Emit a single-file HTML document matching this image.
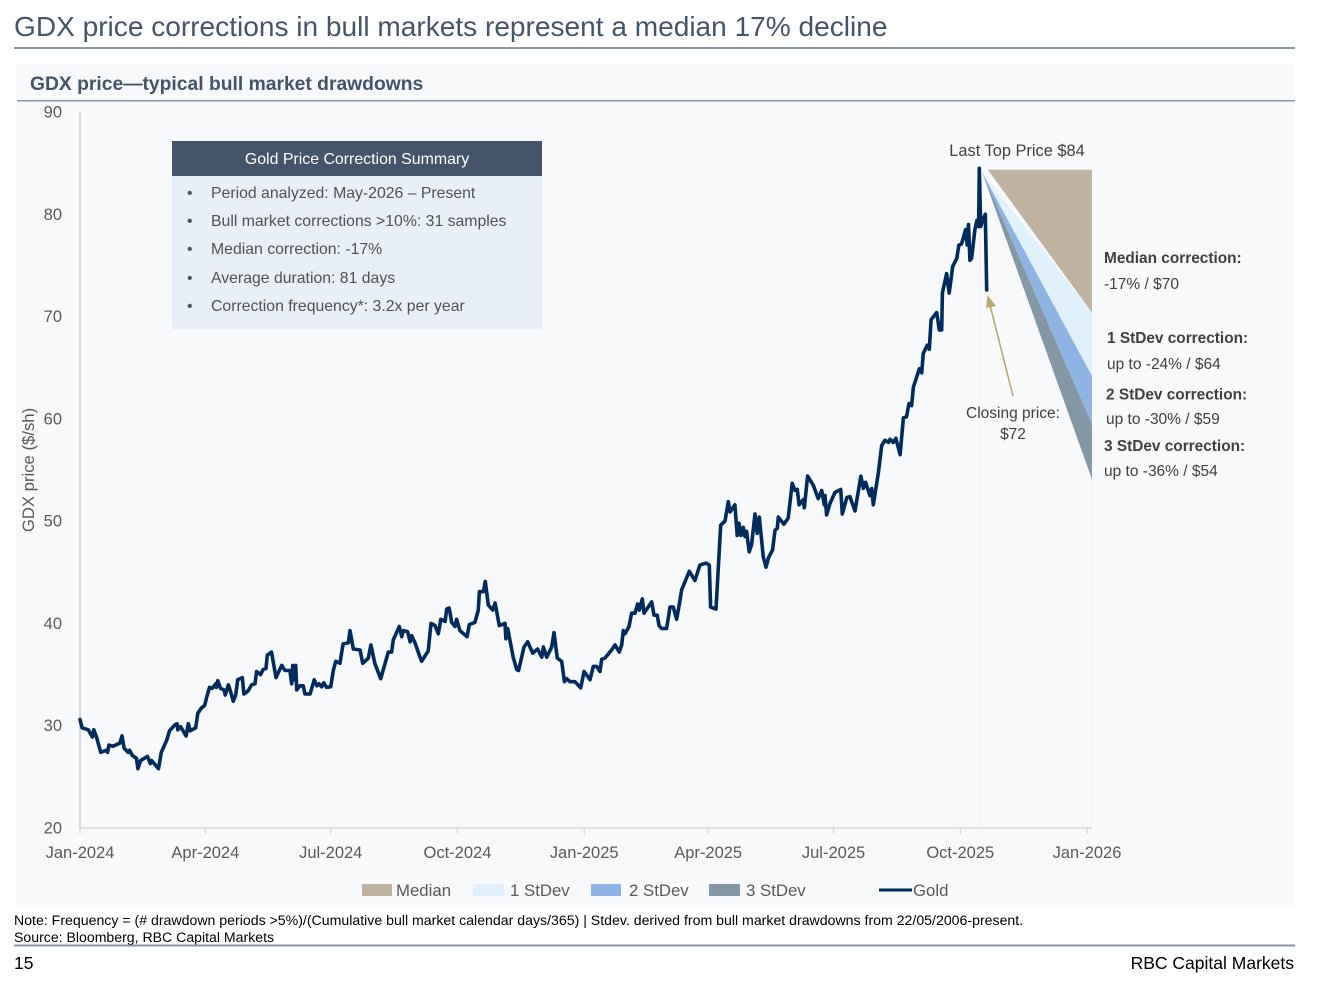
<!DOCTYPE html>
<html lang="en">
<head>
<meta charset="utf-8">
<title>GDX price corrections in bull markets</title>
<style>
html,body{margin:0;padding:0;background:#fff;}
body{width:1318px;height:990px;overflow:hidden;}
svg{display:block;font-family:"Liberation Sans",sans-serif;}
.tick{font-size:16.5px;fill:#595959;}
.anno{font-size:15.5px;fill:#404040;}
.annob{font-size:15.4px;fill:#404040;font-weight:bold;}
.leg{font-size:16.8px;fill:#595959;}
.sum{font-size:15.8px;fill:#505050;}
</style>
</head>
<body>
<svg id="page" width="1318" height="990" viewBox="0 0 1318 990" xmlns="http://www.w3.org/2000/svg">
  <rect x="0" y="0" width="1318" height="990" fill="#ffffff"/>
  <text x="14" y="36" font-size="28.07px" fill="#44546a">GDX price corrections in bull markets represent a median 17% decline</text>
  <rect x="14" y="47" width="1281" height="2" fill="#8a97a8"/>
  <rect x="16" y="64" width="1279" height="844" fill="#f7f9fb"/>
  <text x="30" y="90" font-size="19.3px" font-weight="bold" fill="#44546a">GDX price—typical bull market drawdowns</text>
  <rect x="17" y="100" width="1278" height="1.5" fill="#8a97a8"/>

  <g id="plot"></g>

  <text class="tick" transform="translate(34,470) rotate(-90)" text-anchor="middle" style="font-size:16.7px">GDX price ($/sh)</text>

  <g>
    <rect x="172" y="176" width="370" height="153" fill="#e9eff6"/>
    <rect x="172" y="141" width="370" height="35" fill="#44546a"/>
    <text x="357" y="164" text-anchor="middle" font-size="15.9px" fill="#ffffff">Gold Price Correction Summary</text>
    <g class="sum">
      <text x="187" y="198">•</text>
      <text x="211" y="198">Period analyzed: May-2026 – Present</text>
      <text x="187" y="226">•</text>
      <text x="211" y="226">Bull market corrections &gt;10%: 31 samples</text>
      <text x="187" y="254">•</text>
      <text x="211" y="254">Median correction: -17%</text>
      <text x="187" y="283">•</text>
      <text x="211" y="283">Average duration: 81 days</text>
      <text x="187" y="311">•</text>
      <text x="211" y="311">Correction frequency*: 3.2x per year</text>
    </g>
  </g>

  <text class="anno" x="1017" y="156" text-anchor="middle" style="font-size:16.4px">Last Top Price $84</text>
  <text class="anno" x="1013" y="418" text-anchor="middle">Closing price:</text>
  <text class="anno" x="1013" y="439" text-anchor="middle">$72</text>
  <line x1="1013" y1="396" x2="990" y2="305" stroke="#bba874" stroke-width="1.6"/>
  <polygon points="987.5,295 996,306 986,308" fill="#bba874"/>

  <text class="annob" x="1104" y="263">Median correction:</text>
  <text class="anno" x="1104" y="289">-17% / $70</text>
  <text class="annob" x="1107" y="343">1 StDev correction:</text>
  <text class="anno" x="1107" y="369">up to -24% / $64</text>
  <text class="annob" x="1106" y="399.5">2 StDev correction:</text>
  <text class="anno" x="1106" y="424">up to -30% / $59</text>
  <text class="annob" x="1104" y="451">3 StDev correction:</text>
  <text class="anno" x="1104" y="476">up to -36% / $54</text>

  <g>
    <rect x="362" y="884" width="30" height="12" fill="#bfb2a1"/>
    <text class="leg" x="396" y="896">Median</text>
    <rect x="473" y="884" width="31" height="12" fill="#e1f2fd"/>
    <text class="leg" x="510" y="896">1 StDev</text>
    <rect x="591" y="884" width="30" height="12" fill="#8db4e2"/>
    <text class="leg" x="629" y="896">2 StDev</text>
    <rect x="709" y="884" width="31" height="12" fill="#8497a5"/>
    <text class="leg" x="746" y="896">3 StDev</text>
    <line x1="879" y1="890" x2="912" y2="890" stroke="#002b5c" stroke-width="3"/>
    <text class="leg" x="913" y="896">Gold</text>
  </g>

  <text x="14" y="925" font-size="14.13px" fill="#000000">Note: Frequency = (# drawdown periods &gt;5%)/(Cumulative bull market calendar days/365) | Stdev. derived from bull market drawdowns from 22/05/2006-present.</text>
  <text x="14" y="942" font-size="14.1px" fill="#000000">Source: Bloomberg, RBC Capital Markets</text>
  <rect x="14" y="944.5" width="1281" height="2" fill="#8a97a8"/>
  <text x="14" y="969" font-size="17.5px" fill="#000000">15</text>
  <text x="1294" y="969" font-size="17.5px" text-anchor="end" fill="#000000">RBC Capital Markets</text>
</svg>

<script>
const xTickDays = [0,91,182,274,366,456,547,639,731];
const xTickLabels = ["Jan-2024","Apr-2024","Jul-2024","Oct-2024","Jan-2025","Apr-2025","Jul-2025","Oct-2025","Jan-2026"];
const yTickValues = [20,30,40,50,60,70,80,90];
const goldDays = [
0,1.5,6,9,10,12,15,19,20,21,
24,29,30.5,32,35,36,38,41,42,44,
49,51,52,57,59,63,65,69,70.5,71,
73,77,78.6,80,84,85.5,88,90.5,92,94,
96,98.5,99,100,102,104.5,105.5,107.7,109.4,111.3,
113,114.5,117.8,119,122,124.6,127,128.2,131,133,
135,136,139,142.3,146.4,148.8,152.4,153.7,154.4,155.4,
156.6,157.3,159.7,162,163.3,167,170,172,173.5,175.4,
177,179,182,183.9,185.6,188.7,191,194.8,196,198.4,
203.3,205.2,209.3,211.2,214,218.3,223.8,226.2,227.4,231.8,
233.5,234.7,237.8,239.6,240.8,243.2,246.3,248,252.8,254.8,
257.7,260.1,261.9,265,266.2,268,269.8,272.2,273.4,275.8,
281,282.6,286.7,289.1,289.9,292.8,294.2,296.4,299.6,301.3,
304.4,308.5,309.2,310.5,314.5,317,318.4,322.3,325,328.6,
332.2,335.2,336.4,338.8,342.4,344.1,346.5,349.7,351.6,353.3,
355.7,359.3,363.5,365.9,370.2,372.6,375,377.5,378.7,381,
385.9,388.4,391.5,393.2,394.4,395.6,398.5,400.4,402.9,404.8,
406,408.2,409.4,415,416.7,419,420.3,422.2,425.8,428.3,
430.7,433.1,435,436.8,442.3,446.4,450,454.4,456.8,457.8,
461.7,465.1,468.2,470.6,471.9,475.4,477.1,478.4,479.8,481.5,
482.7,483.9,485.8,487.5,490,491.6,493.1,496,498,499.7,
502.8,504.5,506.2,506.9,511,514.1,517,519,520.7,522,
525,525.8,528.2,532.3,535.9,538.4,540.3,540.8,542,544.4,
548,552.2,553.4,556.6,558.9,562.6,566.9,568.6,570.3,573.4,
574.7,575.9,579.5,582,584.4,586.8,588,590.4,592.3,595.3,
597.7,600,601.8,603.7,605,609.3,611,612.2,615,616.5,
617.8,621.9,623.8,625.5,626,629.1,631,633.5,636.5,638,
640,642.9,644,645,646,647.2,649.6,651.1,652.3,652.8,
653.8,655.7,657.2,658.2
];
const goldPrices = [
30.6,29.8,29.6,28.9,29.6,28.9,27.4,27.6,27.4,28.1,
28.0,28.3,29.0,27.8,27.4,27.6,27.1,26.8,25.8,26.6,
27.0,26.3,26.6,25.8,27.4,28.6,29.5,30.1,30.2,29.6,
29.9,29.0,30.2,29.5,29.8,31.2,31.7,32.0,32.8,33.75,
33.65,34.1,33.75,34.4,33.65,33.5,33.0,34.0,33.3,32.4,
33.0,34.5,34.7,33.1,33.4,34.0,34.1,35.3,35.0,35.5,
35.6,36.9,37.2,34.7,35.9,35.4,35.4,34.1,35.9,34.5,
35.9,33.5,33.9,33.9,33.1,33.1,34.5,33.9,34.1,33.8,
34.2,33.75,33.8,35.4,36.3,36.1,38.0,38.1,39.3,37.5,
37.4,36.1,36.6,37.9,36.1,34.6,37.2,37.2,38.4,39.7,
38.7,39.3,39.2,38.2,38.8,38.1,36.9,36.3,37.3,40.0,
39.8,39.0,40.4,40.2,41.4,41.5,40.1,39.7,40.4,39.3,
38.7,39.9,40.1,41.3,43.1,43.1,44.1,41.8,41.3,42.0,
39.8,40.0,38.5,39.5,36.7,35.5,35.4,37.7,38.2,37.1,
37.5,36.7,37.7,36.7,37.7,39.1,36.6,36.3,34.3,34.6,
34.3,34.3,33.7,35.3,34.5,35.8,35.8,35.3,36.5,36.6,
37.4,37.9,37.2,37.9,39.3,39.0,39.7,41.0,41.0,41.9,
41.3,42.4,41.0,42.1,40.8,40.8,39.8,39.5,39.5,41.6,
41.6,40.4,41.8,43.3,45.1,44.2,45.7,45.9,45.7,41.6,
41.4,49.6,50.0,51.9,50.9,51.6,48.6,49.8,48.6,49.4,
48.5,49.0,47.0,47.7,50.7,48.8,50.4,46.5,45.5,46.4,
47.2,49.1,49.3,50.4,49.7,50.3,53.7,53.0,53.1,51.6,
52.1,51.3,54.4,53.5,52.2,53.0,51.6,52.5,50.6,51.7,
52.8,53.1,50.7,52.3,52.4,51.0,54.4,53.2,53.8,52.5,
53.2,51.6,54.7,57.4,57.9,57.7,58.0,57.7,58.1,56.5,
60.1,60.2,61.5,61.3,63.1,64.9,64.5,66.4,67.2,66.8,
69.7,70.4,68.7,68.7,72.3,74.2,72.3,74.9,75.7,77,
77.1,78.5,77,79,75.5,75.7,78.5,79.4,78.8,84.5,
78.8,79.6,80.0,72.6
];
const peakDay = [654];
const peakPrice = [84.35];
const medianStartDay = [659];
const correctionEndDay = [734.6];
const correctionLevels = [70.4,64.2,59.5,54.1];

const NS = "http://www.w3.org/2000/svg";
const plot = document.getElementById("plot");
const xScale = function(d){ return 80 + d * 1007 / 731; };
const yScale = function(v){ return 828 - (v - 20) * 716 / 70; };

function mk(tag, attrs, parent){
  const el = document.createElementNS(NS, tag);
  for (const k in attrs) el.setAttribute(k, attrs[k]);
  (parent || plot).appendChild(el);
  return el;
}

// reference lines
const peakLine = mk("line", {x1:xScale(peakDay[0])-1, x2:xScale(peakDay[0])-1, y1:yScale(peakPrice[0]), y2:828, stroke:"#eceff2", "stroke-width":1});


const endLine = mk("line", {x1:xScale(correctionEndDay[0]), x2:xScale(correctionEndDay[0]), y1:yScale(correctionLevels[3]), y2:828, stroke:"#eceff2", "stroke-width":1});



// axes
const yAxisLine = mk("line", {x1:80, x2:80, y1:112, y2:828, stroke:"#bfbfbf", "stroke-width":1.2});


const xAxisLine = mk("line", {x1:80, x2:1092, y1:828, y2:828, stroke:"#d9d9d9", "stroke-width":1.5});



yTickValues.forEach(function(v){
  const t = mk("text", {x:62, y:yScale(v)+5.5, "text-anchor":"end", class:"tick"});
  
  
  t.textContent = String(v);
});
xTickDays.forEach(function(d, i){
  const m = mk("line", {x1:xScale(d), x2:xScale(d), y1:828, y2:834, stroke:"#d0d0d0", "stroke-width":1});
  
  
  const t = mk("text", {x:xScale(d), y:858, "text-anchor":"middle", class:"tick"});
  
  
  t.textContent = xTickLabels[i];
});

// correction wedges
const apexX = xScale(peakDay[0]);
const apexY = yScale(peakPrice[0]);
const endX = xScale(correctionEndDay[0]);
const bandColors = ["#e1f2fd","#8db4e2","#8497a5"];
const bandNames = ["stdev1-band","stdev2-band","stdev3-band"];
[2,1,0].forEach(function(i){
  const p = mk("polygon", {points:[apexX+1,apexY+2, endX,yScale(correctionLevels[i]), endX,yScale(correctionLevels[i+1])].join(" "), fill:bandColors[i]});
  
  
});
const medianWedge = mk("polygon", {points:[xScale(medianStartDay[0]),apexY, endX,apexY, endX,yScale(correctionLevels[0])].join(" "), fill:"#bfb2a1"});



// price line
const pts = goldDays.map(function(d, i){ return xScale(d).toFixed(1) + "," + yScale(goldPrices[i]).toFixed(1); }).join(" ");
const goldLine = mk("polyline", {points:pts, fill:"none", stroke:"#002b5c", "stroke-width":3.6, "stroke-linejoin":"round", "stroke-linecap":"round"});


</script>
</body>
</html>
